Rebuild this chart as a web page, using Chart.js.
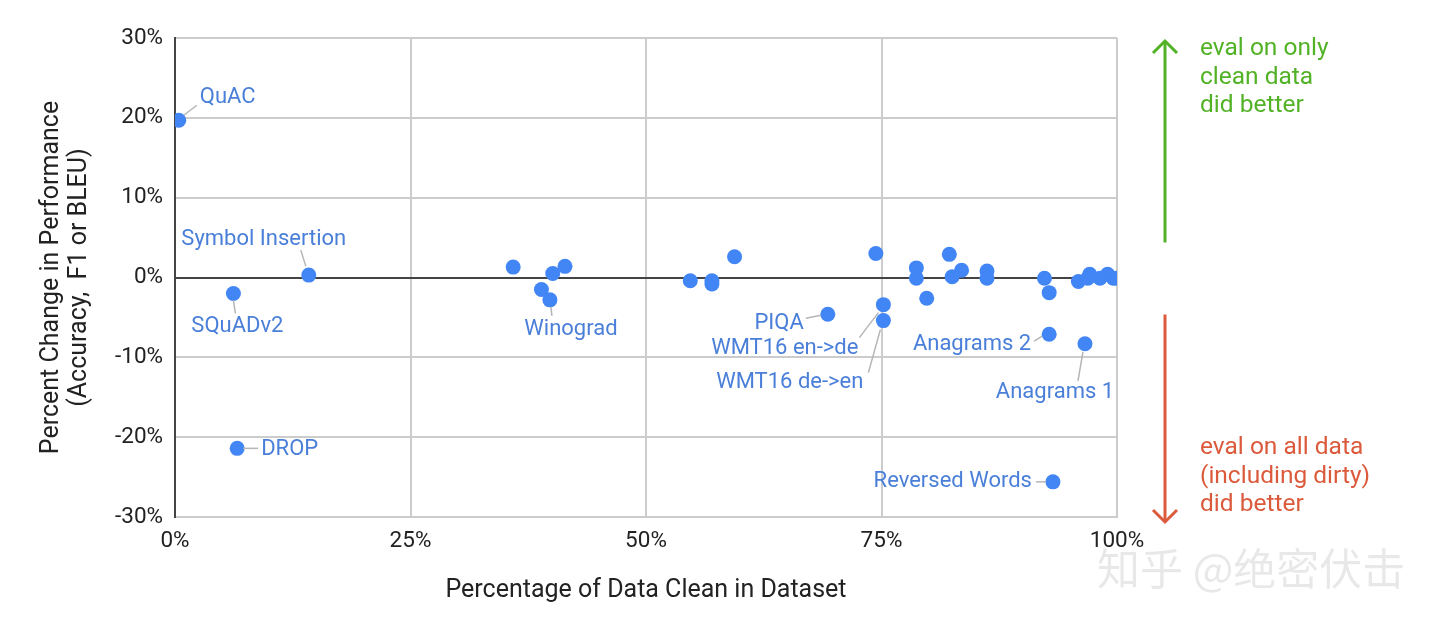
<!DOCTYPE html>
<html>
<head>
<meta charset="utf-8">
<script src="https://cdn.jsdelivr.net/npm/chart.js@4"></script>
<style>
  html, body { margin: 0; padding: 0; background: #fff; }
  #wrap { width: 1440px; height: 626px; position: relative; }
</style>
</head>
<body>
<div id="wrap"><canvas id="chart"></canvas></div>
<script>
// benchmark names ('' = unlabeled point)
const benchmarks = [
    'QuAC', 'SQuADv2', 'DROP', 'Symbol Insertion', '', '', 'Winograd', '', '',
    '', '', '', '', 'PIQA', '', 'WMT16 en->de', 'WMT16 de->en', '', '', '',
    '', '', '', '', '', '', '', 'Anagrams 2', 'Reversed Words', '', '', '',
    'Anagrams 1', '', '', '', ''
];
// percentage of data clean in dataset
const cleanPct = [
    0.4, 6.2, 6.6, 14.2, 35.9, 38.9, 39.8, 40.1, 41.4,
    54.7, 57.0, 57.0, 59.4, 69.3, 74.4, 75.2, 75.2, 78.7, 78.7, 79.8,
    82.2, 82.5, 83.5, 86.2, 86.2, 92.3, 92.8, 92.8, 93.2, 95.9, 96.9, 97.1,
    96.6, 98.2, 99.0, 99.6, 100.0
];
// percent change in performance
const perfChange = [
    19.7, -2.0, -21.4, 0.3, 1.3, -1.5, -2.8, 0.5, 1.4,
    -0.4, -0.4, -0.8, 2.6, -4.6, 3.0, -3.4, -5.4, 1.2, -0.1, -2.6,
    2.9, 0.1, 0.9, 0.8, -0.1, -0.1, -1.9, -7.1, -25.6, -0.5, -0.1, 0.4,
    -8.3, -0.1, 0.4, -0.1, -0.1
];
const xTicks = [0, 25, 50, 75, 100];
const yTicks = [-30, -20, -10, 0, 10, 20, 30];

// label placement relative to the point: text offset, alignment, leader line
const labelLayout = {
    'QuAC':             { dx: 21,  dy: -23, align: 'left',   lead: [5, -5, 18, -15] },
    'Symbol Insertion': { dx: -45, dy: -36, align: 'center', lead: [-8, -25, -3, -9] },
    'SQuADv2':          { dx: 4,   dy: 33,  align: 'center', lead: [0, 7, 2, 20] },
    'DROP':             { dx: 24,  dy: 1,   align: 'left',   lead: [6, 0, 21, 0] },
    'Winograd':         { dx: 21,  dy: 30,  align: 'center', lead: [1, 7, 2, 16] },
    'PIQA':             { dx: -24, dy: 9,   align: 'right',  lead: [-22, 4, -7, 1] },
    'WMT16 en->de':     { dx: -25, dy: 44,  align: 'right',  lead: [-24, 33, -5, 8] },
    'WMT16 de->en':     { dx: -20, dy: 62,  align: 'right',  lead: [-15, 52, -3, 9] },
    'Anagrams 2':       { dx: -18, dy: 10,  align: 'right',  lead: [-15, 7, -7, 2] },
    'Anagrams 1':       { dx: -30, dy: 49,  align: 'center', lead: [-2, 8, -7, 37] },
    'Reversed Words':   { dx: -21, dy: 0,   align: 'right',  lead: [-17, 0, -7, 0] }
};

const points = cleanPct.map((x, i) => ({ x: x, y: perfChange[i] }));

const pointLabels = {
    id: 'pointLabels',
    afterDatasetsDraw(chart) {
        const ctx = chart.ctx;
        const meta = chart.getDatasetMeta(0);
        ctx.save();
        benchmarks.forEach((name, i) => {
            if (!name) return;
            const lay = labelLayout[name];
            const el = meta.data[i];
            const px = el.x, py = el.y;
            ctx.strokeStyle = '#b5b5b5';
            ctx.lineWidth = 1.5;
            ctx.beginPath();
            ctx.moveTo(px + lay.lead[0], py + lay.lead[1]);
            ctx.lineTo(px + lay.lead[2], py + lay.lead[3]);
            ctx.stroke();
            ctx.fillStyle = '#4a7fd9';
            ctx.font = '22px Roboto';
            ctx.textAlign = lay.align;
            ctx.textBaseline = 'middle';
            ctx.fillText(name, px + lay.dx, py + lay.dy);
        });
        ctx.restore();
    }
};

function drawArrow(ctx, x, y1, y2, color, up) {
    ctx.strokeStyle = color;
    ctx.lineWidth = 3;
    ctx.beginPath();
    ctx.moveTo(x, y1);
    ctx.lineTo(x, y2);
    ctx.stroke();
    const tip = up ? y1 : y2;
    const d = up ? 12 : -12;
    ctx.beginPath();
    ctx.moveTo(x - 12, tip + d);
    ctx.lineTo(x, tip);
    ctx.lineTo(x + 12, tip + d);
    ctx.stroke();
}

const sideNotes = {
    id: 'sideNotes',
    afterDraw(chart) {
        const ctx = chart.ctx;
        const area = chart.chartArea;
        const zero = chart.scales.y.getPixelForValue(0);
        const ax = area.right + 48;
        ctx.save();
        drawArrow(ctx, ax, area.top + 3, zero - 35, '#52b226', true);
        drawArrow(ctx, ax, zero + 37, area.bottom + 5, '#dc5a3c', false);
        ctx.font = '24.5px Roboto';
        ctx.textAlign = 'left';
        ctx.textBaseline = 'middle';
        ctx.fillStyle = '#52b226';
        ['eval on only', 'clean data', 'did better'].forEach((t, i) => {
            ctx.fillText(t, ax + 35, area.top + 11 + i * 28.5);
        });
        ctx.fillStyle = '#dc5a3c';
        ['eval on all data', '(including dirty)', 'did better'].forEach((t, i) => {
            ctx.fillText(t, ax + 35, area.bottom - 69 + i * 28.5);
        });
        // watermark
        ctx.font = '43px "Noto Sans CJK SC"';
        ctx.fillStyle = 'rgba(0,0,0,0.09)';
        ctx.textBaseline = 'alphabetic';
        ctx.fillText('知乎 @绝密伏击', 1097, 585);
        ctx.restore();
    }
};

Chart.defaults.font.family = 'Roboto';

new Chart(document.getElementById('chart'), {
    type: 'scatter',
    data: {
        datasets: [{
            data: points,
            backgroundColor: '#4285f4',
            borderWidth: 0,
            pointRadius: 7.5,
            pointHoverRadius: 7.5
        }]
    },
    options: {
        responsive: true,
        maintainAspectRatio: false,
        animation: false,
        events: [],
        layout: { padding: { left: 0, top: 38, right: 323, bottom: 0 } },
        plugins: { legend: { display: false }, tooltip: { enabled: false } },
        scales: {
            x: {
                type: 'linear',
                min: 0,
                max: 100,
                afterFit: s => { s.height = 109; },
                afterBuildTicks: s => { s.ticks = xTicks.map(v => ({ value: v })); },
                ticks: {
                    callback: v => v + '%',
                    color: '#222',
                    font: { size: 22.5 },
                    padding: 11,
                    maxRotation: 0
                },
                grid: { color: '#cccccc', lineWidth: 2, drawTicks: false },
                border: { color: '#cccccc', width: 2 },
                title: {
                    display: true,
                    text: 'Percentage of Data Clean in Dataset',
                    color: '#222',
                    font: { size: 25 },
                    padding: { top: 0, bottom: 20 }
                }
            },
            y: {
                type: 'linear',
                min: -30,
                max: 30,
                afterFit: s => { s.width = 175; },
                afterBuildTicks: s => { s.ticks = yTicks.map(v => ({ value: v })); },
                ticks: {
                    callback: v => v + '%',
                    color: '#222',
                    font: { size: 22.5 },
                    padding: 12
                },
                grid: {
                    color: c => (c.tick && c.tick.value === 0) ? '#444444' : '#cccccc',
                    lineWidth: 2,
                    drawTicks: false
                },
                border: { color: '#444444', width: 2 },
                title: {
                    display: true,
                    text: ['Percent Change in Performance', '(Accuracy,  F1 or BLEU)'],
                    color: '#222',
                    font: { size: 25, lineHeight: 1.12 },
                    padding: { top: 38, bottom: 0 }
                }
            }
        }
    },
    plugins: [pointLabels, sideNotes]
});
</script>
</body>
</html>
